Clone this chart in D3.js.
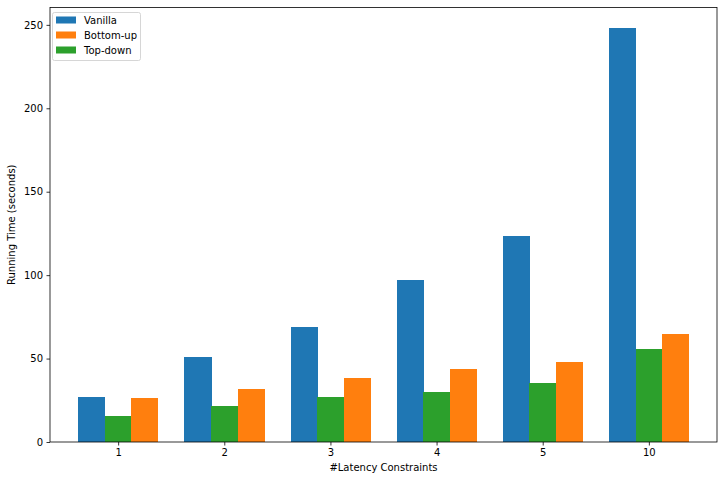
<!DOCTYPE html>
<html><head><meta charset="utf-8">
<script src="https://cdn.jsdelivr.net/npm/d3@7"></script>
<style>body{margin:0;background:#fff}svg{display:block}text{font-family:"DejaVu Sans",sans-serif;font-size:10px;fill:#000}</style>
</head><body><svg id="c" width="724" height="480"></svg>
<script>
const categories = ["1","2","3","4","5","10"];
const vanilla = [26.9, 50.9, 68.9, 97.0, 123.4, 247.9];
const topDown = [15.6, 21.6, 26.9, 29.9, 35.3, 55.7];
const bottomUp = [26.3, 31.7, 38.3, 43.7, 47.9, 64.7];
const yTicks = [0, 50, 100, 150, 200, 250];
const seriesNames = ["Vanilla", "Bottom-up", "Top-down"];
const colors = {"Vanilla":"#1f77b4","Bottom-up":"#ff7f0e","Top-down":"#2ca02c"};

const svg = d3.select("#c");
const L=50, R=717, T=7.5, B=442;
const x = d3.scaleLinear().domain([-0.642, categories.length-1+0.642]).range([L,R]);
const y = d3.scaleLinear().domain([0, 260.4]).range([B,T]);
const w = 0.25;

const series = [
  {name:"Vanilla", vals:vanilla, off:-w},
  {name:"Top-down", vals:topDown, off:0},
  {name:"Bottom-up", vals:bottomUp, off:w}
];
series.forEach(s=>{
  svg.append("g").attr("shape-rendering","crispEdges").selectAll("rect").data(s.vals).join("rect")
    .attr("x",(d,i)=>x(i+s.off-w/2)).attr("width",x(w)-x(0)+0.5)
    .attr("y",d=>y(d)).attr("height",d=>y(0)-y(d))
    .attr("fill",colors[s.name]);
});

const xAxis = d3.axisBottom(x).tickValues(d3.range(categories.length)).tickFormat(i=>categories[i]).tickSize(3.5).tickPadding(3.5);
const gx = svg.append("g").attr("transform",`translate(0,${B})`).call(xAxis);
gx.select(".domain").remove();
const yAxis = d3.axisLeft(y).tickValues(yTicks).tickSize(3.5).tickPadding(3.5);
const gy = svg.append("g").attr("transform",`translate(${L},0)`).call(yAxis);
gy.select(".domain").remove();
svg.selectAll(".tick text").style("font-family","DejaVu Sans").style("font-size","10px").attr("fill","#000");
svg.selectAll(".tick line").attr("stroke","#000").attr("stroke-width",0.8);

svg.append("rect").attr("x",L).attr("y",T).attr("width",R-L).attr("height",B-T)
  .attr("fill","none").attr("stroke","#000").attr("stroke-width",0.8);

svg.append("text").attr("x",(L+R)/2).attr("y",471).attr("text-anchor","middle").text("#Latency Constraints");
svg.append("text").attr("transform",`translate(15,${(T+B)/2}) rotate(-90)`).attr("text-anchor","middle").text("Running Time (seconds)");

const lg = svg.append("g");
lg.append("rect").attr("x",52.5).attr("y",12.5).attr("width",88).attr("height",48).attr("rx",2)
  .attr("fill","#fff").attr("fill-opacity",0.8).attr("stroke","#ccc").attr("stroke-width",0.8);
seriesNames.forEach((n,i)=>{
  const yy = 16.5 + i*15;
  lg.append("rect").attr("x",56).attr("y",yy).attr("width",20).attr("height",7).attr("fill",colors[n]);
  lg.append("text").attr("x",84).attr("y",yy+7).text(n);
});
</script></body></html>
